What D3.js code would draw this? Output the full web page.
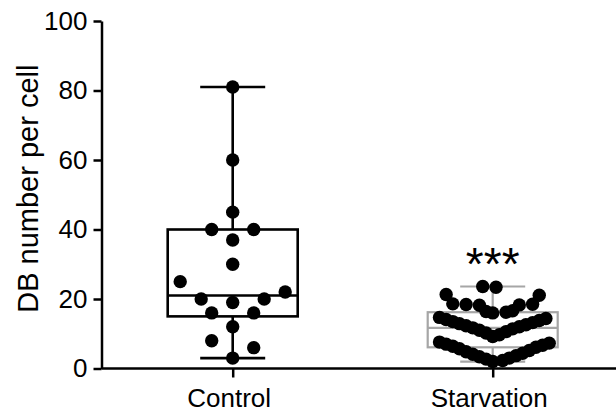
<!DOCTYPE html>
<html>
<head>
<meta charset="utf-8">
<script src="https://cdn.jsdelivr.net/npm/d3@7"></script>
<style>
  body { margin: 0; background: #fff; }
  text { font-family: Arial, "Liberation Sans", sans-serif; fill: #000; }
</style>
</head>
<body>
<svg id="chart" width="616" height="417"></svg>
<script>
// Groups, per-cell counts and axis ticks
const groups = ["Control", "Starvation"];
const controlValues = [81, 60, 45, 40, 40, 37, 30, 25, 22, 20, 20, 19, 16, 16, 12, 8, 6, 3];
const starvationValues = [
  23.6, 23.4,
  21.3, 21.1, 18.6, 18.5, 18.4, 18.3, 18.2, 16.6, 16.4, 16.2, 16.0,
  14.7, 14.4, 14.1, 13.8, 13.5, 13.2, 12.9, 12.6, 12.3, 12.0, 11.7, 11.4, 11.0, 10.6, 10.2, 9.7, 9.2,
  7.6, 7.3, 7.0, 6.7, 6.4, 6.1, 5.7, 5.2, 4.8, 4.4, 4.1, 3.7, 3.4, 3.0, 2.7, 2.3, 2.0
];
const yTicks = [0, 20, 40, 60, 80, 100];
const yTitle = "DB number per cell";
const significance = "***";

const svg = d3.select("#chart");
const W = 616;
const axisX = 101.5;

const y = d3.scaleLinear().domain([0, 100]).range([368.5, 21]);
const x = d3.scalePoint().domain(groups).range([102.7, 622.7]).padding(0.5);

// Quartiles by the (n+1)p rule
function quantile(sorted, p) {
  const n = sorted.length;
  const pos = Math.min(Math.max(p * (n + 1), 1), n);
  const lo = Math.floor(pos), hi = Math.ceil(pos);
  return sorted[lo - 1] + (pos - lo) * (sorted[hi - 1] - sorted[lo - 1]);
}
function stats(vals) {
  const s = vals.slice().sort((a, b) => a - b);
  return { min: s[0], q1: quantile(s, 0.25), med: quantile(s, 0.5), q3: quantile(s, 0.75), max: s[s.length - 1] };
}

// Column scatter: sorted values are grouped into runs spanning less than `span` units.
// A run is spread about the centre, alternating right and left one `step` further out
// each time; a point is nudged outward by half a step while it falls inside the
// gx-by-gy ellipse around a point already placed.
function columnScatter(vals, step, span, gx, gy) {
  const pts = vals.map(v => ({ v, py: y(v) })).sort((a, b) => a.v - b.v);
  const runs = [];
  pts.forEach(p => {
    const run = runs[runs.length - 1];
    if (!run || p.v - run[0].v >= span) runs.push([p]); else run.push(p);
  });
  const placed = [];
  const clash = (p, ox) => placed.some(q => {
    const a = (q.dx - ox) / gx, b = (q.py - p.py) / gy;
    return a * a + b * b < 1 - 1e-9;
  });
  runs.forEach(run => {
    const odd = run.length % 2 === 1;
    let right = odd ? 0 : -step / 2, left = odd ? 0 : step / 2;
    run.forEach((p, i) => {
      let ox;
      if (odd && i === 0) {
        ox = 0;
      } else if ((i % 2 === 1) === odd) {
        ox = right + step;
        while (clash(p, ox)) ox += step / 2;
        right = ox;
      } else {
        ox = left - step;
        while (clash(p, ox)) ox -= step / 2;
        left = ox;
      }
      p.dx = ox;
      placed.push(p);
    });
  });
  return pts;
}

const series = [
  { name: "Control", values: controlValues, stroke: "#000", width: 2.6, step: 21, gx: 15, gy: 15 },
  { name: "Starvation", values: starvationValues, stroke: "#a6a6a6", width: 2.2, step: 6.65, gx: 12.5, gy: 1.5 }
];
const runSpan = 6.6;
const boxHalf = 65, capHalf = 32.5, dotR = 6.7;

series.forEach(s => {
  const st = stats(s.values);
  const cx = x(s.name);
  const g = svg.append("g").attr("class", "box").attr("stroke", s.stroke)
    .attr("stroke-width", s.width).attr("fill", "none");
  g.append("line").attr("x1", cx).attr("x2", cx).attr("y1", y(st.max)).attr("y2", y(st.q3));
  g.append("line").attr("x1", cx).attr("x2", cx).attr("y1", y(st.q1)).attr("y2", y(st.min));
  g.append("line").attr("x1", cx - capHalf).attr("x2", cx + capHalf).attr("y1", y(st.max)).attr("y2", y(st.max));
  g.append("line").attr("x1", cx - capHalf).attr("x2", cx + capHalf).attr("y1", y(st.min)).attr("y2", y(st.min));
  g.append("rect").attr("x", cx - boxHalf).attr("width", boxHalf * 2)
    .attr("y", y(st.q3)).attr("height", y(st.q1) - y(st.q3));
  g.append("line").attr("x1", cx - boxHalf).attr("x2", cx + boxHalf).attr("y1", y(st.med)).attr("y2", y(st.med));
});

series.forEach(s => {
  const cx = x(s.name);
  svg.append("g").attr("class", "dots")
    .selectAll("circle").data(columnScatter(s.values, s.step, runSpan, s.gx, s.gy)).join("circle")
    .attr("cx", d => cx + d.dx).attr("cy", d => d.py).attr("r", dotR).attr("fill", "#000");
});

// Axes
const yAxis = svg.append("g").attr("transform", `translate(${axisX},0)`)
  .call(d3.axisLeft(y).tickValues(yTicks).tickSize(8).tickPadding(6).tickSizeOuter(0));
yAxis.attr("font-size", 26);
yAxis.selectAll("text").style("font-size", "26px");

const xAxis = svg.append("g").attr("transform", `translate(0,${y(0)})`)
  .call(d3.axisBottom(x).tickSize(9).tickPadding(11).tickSizeOuter(0));
xAxis.attr("font-size", 26);
xAxis.select(".domain").attr("d", `M${axisX},0H${W}`);
xAxis.selectAll("text").style("font-size", "26px").attr("dx", -4);

svg.selectAll(".domain, .tick line").attr("stroke", "#000").attr("stroke-width", 2.5);

// Axis title
svg.append("text")
  .attr("transform", "translate(37.7,188.7) rotate(-90)")
  .attr("text-anchor", "middle").style("font-size", "29px").text(yTitle);

// Significance mark above the starvation column
svg.append("text").attr("x", x("Starvation")).attr("y", 280)
  .attr("text-anchor", "middle").style("font-size", "46px").text(significance);
</script>
</body>
</html>
